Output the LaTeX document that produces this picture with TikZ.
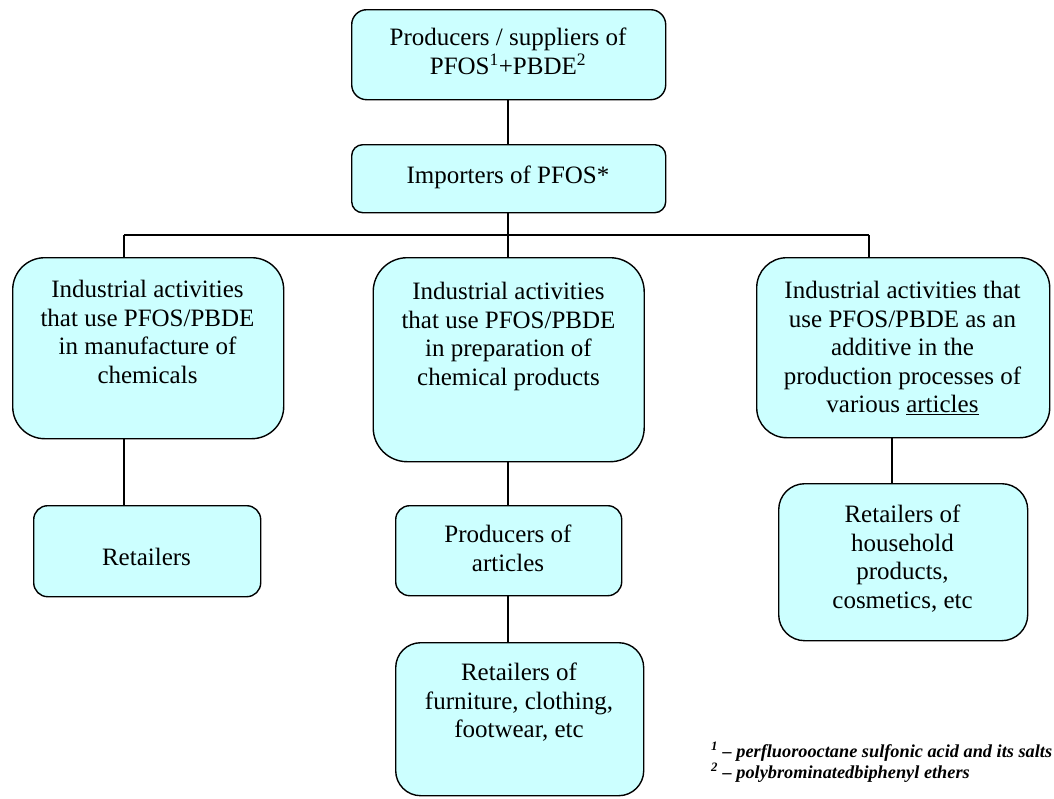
\documentclass[tikz,border=0pt]{standalone}
\usepackage{fontspec}
\setmainfont{Liberation Serif}
\definecolor{boxfill}{HTML}{CCFFFF}
\tikzset{
  box/.style={draw=black, line width=1.4pt, fill=boxfill, rounded corners=#1, inner sep=0pt, anchor=north west},
  box/.default=15pt,
  txt/.style={align=center, inner sep=0pt, font=\fontsize{25}{28.5}\selectfont},
  link/.style={draw=black, line width=1.4pt},
  note/.style={inner sep=0pt, anchor=base west, font=\fontsize{18.3}{20}\selectfont\bfseries\itshape}
}
\begin{document}
\begin{tikzpicture}[x=1pt,y=-1pt]
\useasboundingbox (0,0) rectangle (1054,798);
% boxes
\node[box=15pt, minimum width=314pt, minimum height=90pt] (top) at (351,9) {};
\node[box=11pt, minimum width=314pt, minimum height=68pt] (imp) at (351,144) {};
\node[box=32pt, minimum width=271pt, minimum height=181pt] (left) at (12,257) {};
\node[box=34pt, minimum width=271pt, minimum height=204pt] (mid) at (372.5,257) {};
\node[box=30pt, minimum width=293pt, minimum height=180pt] (right) at (756,257) {};
\node[box=14pt, minimum width=227pt, minimum height=91pt] (ret) at (33,505) {};
\node[box=14pt, minimum width=226pt, minimum height=90pt] (prod) at (395,505) {};
\node[box=25pt, minimum width=248pt, minimum height=153pt] (furn) at (395,642) {};
\node[box=26pt, minimum width=249pt, minimum height=157pt] (house) at (778,483) {};
% texts
\node[txt, anchor=north] (topt) at (508,28) {Producers / suppliers of\\PFOS\textsuperscript{1}+PBDE\textsuperscript{2}};
\node[txt, anchor=base] (impt) at (508,183) {Importers of PFOS*};
\node[txt, anchor=north] (leftt) at (147.5,280) {Industrial activities\\that use PFOS/PBDE\\in manufacture of\\chemicals};
\node[txt, anchor=north] (midt) at (508.5,282) {Industrial activities\\that use PFOS/PBDE\\in preparation of\\chemical products};
\node[txt, anchor=north] (rightt) at (902.5,281) {Industrial activities that\\use PFOS/PBDE as an\\additive in the\\production processes of\\various \underline{articles}};
\node[txt, anchor=base] (rett) at (146.5,565) {Retailers};
\node[txt, anchor=north] (prodt) at (508,525) {Producers of\\articles};
\node[txt, anchor=north] (furnt) at (519,663) {Retailers of\\furniture, clothing,\\footwear, etc};
\node[txt, anchor=north] (houset) at (902.5,505) {Retailers of\\household\\products,\\cosmetics, etc};
% connectors
\coordinate (hl) at (124,235);
\coordinate (hm) at (508,235);
\coordinate (hr) at (869,235);
\coordinate (rc) at (892,0);
\draw[link] (hm |- top.south) -- (hm |- imp.north);
\draw[link] (hm |- imp.south) -- (hm);
\draw[link] (hl) -- (hr);
\draw[link] (hl) -- (hl |- left.north);
\draw[link] (hm) -- (hm |- mid.north);
\draw[link] (hr) -- (hr |- right.north);
\draw[link] (hl |- left.south) -- (hl |- ret.north);
\draw[link] (hm |- mid.south) -- (hm |- prod.north);
\draw[link] (hm |- prod.south) -- (hm |- furn.north);
\draw[link] (rc |- right.south) -- (rc |- house.north);
% footnotes
\node[note] (fn1) at (711,757) {\textsuperscript{1} – perfluorooctane sulfonic acid and its salts};
\node[note] (fn2) at (711,778) {\textsuperscript{2} – polybrominatedbiphenyl ethers};
\end{tikzpicture}
\end{document}
